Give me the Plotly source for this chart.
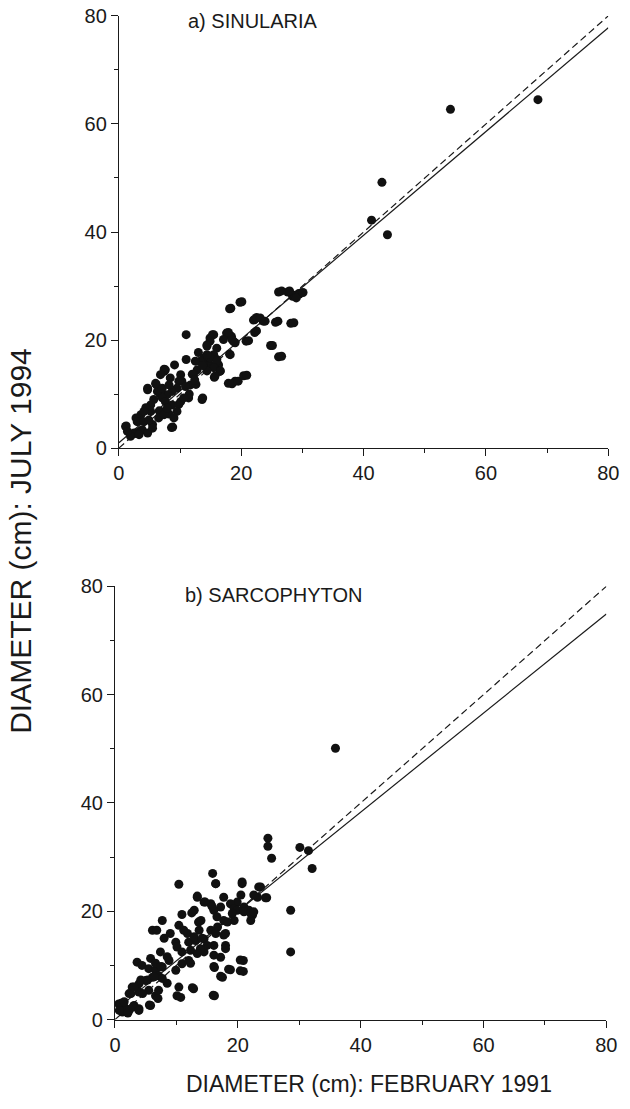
import plotly.graph_objects as go

# ---- Data: a) SINULARIA  (diameter Feb 1991, diameter July 1994), cm ----
sin_points = [
    (68.5, 64.5), (54.2, 62.7), (43.0, 49.2), (41.3, 42.2), (43.9, 39.5),
    (26.1, 28.9), (27.6, 28.9), (28.4, 28.1), (29.4, 28.6), (28.8, 28.3), (26.6, 29.1),
    (27.9, 29.1), (29.5, 28.5), (29.0, 27.8), (30.1, 28.8),
    (19.8, 27.0), (18.1, 25.8), (18.3, 25.9), (20.1, 27.1),
    (22.0, 23.7), (22.5, 24.2), (23.6, 23.5), (22.2, 23.8), (23.1, 24.1), (23.9, 23.5),
    (25.6, 23.3), (26.0, 23.5), (28.1, 23.1), (28.6, 23.2),
    (22.2, 21.4), (22.5, 21.7), (20.8, 19.8), (21.2, 19.9), (24.8, 19.0), (25.1, 19.0),
    (26.1, 16.9), (26.6, 17.0),
    (17.9, 21.0), (17.6, 21.3), (18.4, 20.7), (18.7, 19.8), (17.1, 20.1), (18.5, 20.1),
    (19.0, 19.5), (17.9, 21.4), (18.1, 17.4), (18.2, 17.3),
    (17.9, 12.0), (19.0, 12.4), (18.5, 11.9), (19.5, 12.4), (20.4, 13.4), (20.9, 13.5),
    (15.3, 21.0), (14.9, 20.4), (15.5, 21.0), (14.9, 19.8), (14.4, 19.1), (14.4, 18.9),
    (13.0, 17.7), (11.0, 21.0), (11.0, 16.4), (16.0, 18.5), (15.5, 17.3),
    (13.9, 16.7), (14.4, 16.1), (16.0, 16.4), (14.9, 15.4), (16.5, 14.2), (15.6, 13.1),
    (16.3, 15.4), (14.9, 16.7), (16.0, 16.1), (15.5, 14.9), (16.6, 14.3), (13.8, 15.5),
    (14.4, 14.3), (15.7, 13.3), (13.3, 16.1), (12.8, 14.5), (13.6, 9.0), (13.7, 9.3),
    (12.2, 13.6), (11.7, 11.7), (11.4, 9.3), (12.0, 13.7), (12.6, 11.8), (11.5, 10.0),
    (9.1, 15.4), (7.4, 14.2), (7.6, 14.5), (7.4, 14.6), (6.8, 13.6), (8.4, 13.0),
    (10.1, 13.6), (10.3, 12.4), (9.8, 12.4), (9.5, 11.1), (10.9, 11.4),
    (8.7, 10.5), (7.9, 9.9), (6.8, 9.9), (6.3, 10.5), (4.7, 10.8), (4.7, 11.1),
    (6.1, 11.8), (5.7, 9.0), (7.1, 9.3), (7.6, 8.6), (8.7, 8.0), (9.8, 8.1),
    (10.1, 8.6), (9.5, 6.8), (6.8, 6.8), (6.6, 6.9), (8.2, 6.3), (5.2, 6.8), (6.5, 5.6),
    (8.6, 3.8), (8.8, 3.9), (5.2, 8.0), (4.4, 7.5), (3.6, 6.2), (2.8, 5.6), (3.0, 4.9),
    (4.1, 4.9), (5.5, 4.4), (3.8, 3.4), (3.4, 3.1), (4.7, 2.8), (2.5, 2.8), (2.3, 2.6),
    (1.9, 2.2), (1.1, 4.0), (1.2, 4.1), (1.4, 3.1), (3.3, 2.5), (5.5, 3.7), (4.9, 5.2),
    (4.1, 6.8), (7.4, 6.2), (7.9, 7.4), (9.0, 5.6), (10.6, 9.3), (6.0, 12.0),
    (7.1, 11.1), (8.2, 11.7), (12.5, 16.1), (14.4, 17.3), (13.7, 15.3), (12.4, 12.6),
]

# ---- Data: b) SARCOPHYTON ----
sar_points = [
    (35.9, 50.1), (24.9, 33.5), (24.9, 32.0), (25.5, 29.8), (30.1, 31.8), (31.5, 31.2),
    (32.1, 27.9), (28.6, 20.2), (28.6, 12.5),
    (15.9, 27.0), (16.4, 25.1), (10.4, 25.0), (20.7, 25.4), (23.4, 24.5), (23.7, 24.5),
    (24.7, 22.5), (24.5, 22.5), (23.2, 22.6), (22.6, 23.0), (20.5, 23.0), (20.7, 25.1),
    (16.4, 25.1), (19.9, 21.7), (18.8, 21.4), (19.4, 20.5), (21.0, 20.8), (21.8, 20.2),
    (22.4, 19.3), (22.1, 18.3), (17.7, 22.6), (17.2, 20.8), (15.6, 21.4), (16.1, 20.2),
    (14.5, 21.7), (13.4, 22.6), (12.9, 20.2), (13.4, 22.8), (14.7, 21.7),
    (17.7, 18.3), (16.7, 17.1), (15.6, 16.5), (14.0, 18.3), (13.7, 16.5), (14.5, 14.9),
    (17.7, 15.6), (16.1, 13.7), (18.0, 13.7), (18.0, 13.1), (17.2, 11.5), (16.1, 11.9),
    (14.5, 12.5), (15.0, 13.7), (16.4, 15.9), (18.0, 15.9), (19.4, 18.3), (18.3, 18.0),
    (19.9, 20.2), (21.0, 19.9), (22.1, 19.6), (22.6, 19.9),
    (20.9, 10.9), (20.9, 8.9), (18.8, 9.2), (17.5, 7.8), (16.2, 9.6), (16.2, 4.4),
    (7.7, 18.3), (12.5, 19.7), (10.9, 19.4), (10.4, 17.4), (13.6, 18.0), (6.1, 16.5),
    (6.8, 16.5), (9.0, 15.9), (9.9, 14.3), (10.1, 13.4), (10.9, 12.5), (12.0, 14.3),
    (13.1, 14.6), (7.4, 12.5), (11.8, 15.9), (12.9, 15.3), (11.2, 16.5), (14.2, 15.0),
    (3.6, 10.6), (4.4, 10.0), (5.5, 9.4), (6.6, 9.1), (7.7, 9.7), (8.8, 10.9),
    (9.9, 9.1), (10.9, 10.3), (12.0, 10.9), (12.3, 12.8), (13.9, 13.1), (13.4, 12.2),
    (12.3, 10.4), (8.5, 11.6), (5.8, 11.3), (6.6, 10.4),
    (2.8, 6.0), (3.9, 6.6), (5.0, 7.2), (6.1, 7.8), (7.1, 8.1), (7.7, 7.6), (8.5, 6.7),
    (2.3, 4.8), (3.9, 5.1), (5.5, 5.4), (6.6, 4.4), (7.1, 5.4), (7.0, 3.9), (5.6, 2.7),
    (10.4, 6.0), (10.1, 4.4), (10.7, 4.1), (12.8, 5.7), (12.6, 5.9),
    (0.6, 2.9), (1.5, 2.3), (2.3, 1.7), (1.2, 1.4), (3.1, 2.6), (3.9, 2.0), (5.8, 2.6),
    (1.0, 3.0), (1.8, 2.0), (0.7, 1.7), (2.1, 1.2), (2.9, 2.3), (1.5, 3.3), (3.9, 1.7),
    (2.6, 4.8), (3.1, 6.0), (4.5, 4.8), (4.2, 7.3), (5.3, 7.3), (6.4, 7.9),
    (16.1, 9.8), (17.2, 8.0), (18.5, 9.3), (20.4, 11.0), (20.4, 9.0), (16.0, 4.5),
    (15.8, 20.9), (19.1, 19.6), (16.6, 19.0), (8.0, 15.0), (7.5, 9.8),
]

# 1:1 reference line (dashed) and fitted regression lines (solid)
line_x = [0, 80]
sin_fit = (1.0, 0.96)      # intercept, slope
sar_fit = (1.7, 0.915)

x_ticks = [0, 20, 40, 60, 80]
y_ticks = [0, 20, 40, 60, 80]

FONT = "Liberation Sans, Arial, sans-serif"
INK = "#1a1a1a"
W, H = 630, 1109

fig = go.Figure()


def add_panel(points, fit, xa, ya):
    xs = [p[0] for p in points]
    ys = [p[1] for p in points]
    fig.add_trace(go.Scatter(x=line_x, y=line_x, mode="lines",
                             line=dict(color=INK, width=1.2, dash="7px,4px"),
                             xaxis=xa, yaxis=ya, showlegend=False, hoverinfo="skip"))
    fig.add_trace(go.Scatter(x=line_x, y=[fit[0] + fit[1] * v for v in line_x], mode="lines",
                             line=dict(color=INK, width=1.2),
                             xaxis=xa, yaxis=ya, showlegend=False, hoverinfo="skip"))
    fig.add_trace(go.Scatter(x=xs, y=ys, mode="markers",
                             marker=dict(color="#111111", size=9, line=dict(width=0)),
                             xaxis=xa, yaxis=ya, showlegend=False, cliponaxis=False))


add_panel(sin_points, sin_fit, "x", "y")
add_panel(sar_points, sar_fit, "x2", "y2")

axis_common = dict(range=[0, 80], showline=True, linecolor=INK, linewidth=1.2,
                   ticks="outside", ticklen=7, tickwidth=1, tickcolor=INK,
                   showgrid=False, zeroline=False,
                   tickfont=dict(family=FONT, size=20, color=INK),
                   minor=dict(dtick=10, ticks="outside", ticklen=4, tickwidth=1, tickcolor=INK))

fig.update_layout(
    width=W, height=H, autosize=False,
    margin=dict(l=0, r=0, t=0, b=0),
    paper_bgcolor="white", plot_bgcolor="white",
    xaxis=dict(axis_common, domain=[116 / W, 619 / W], anchor="y", tickvals=x_ticks),
    yaxis=dict(axis_common, domain=[1 - 446 / H, 1 - 5 / H], anchor="x", tickvals=y_ticks),
    xaxis2=dict(axis_common, domain=[112 / W, 617 / W], anchor="y2", tickvals=x_ticks),
    yaxis2=dict(axis_common, domain=[1 - 1029 / H, 1 - 587 / H], anchor="x2", tickvals=y_ticks),
)

fig.add_annotation(text="a) SINULARIA", xref="paper", yref="paper",
                   x=185 / W, y=1 - 10 / H, xanchor="left", yanchor="middle",
                   showarrow=False, font=dict(family=FONT, size=20, color=INK))
fig.add_annotation(text="b) SARCOPHYTON", xref="paper", yref="paper",
                   x=182 / W, y=1 - 596 / H, xanchor="left", yanchor="middle",
                   showarrow=False, font=dict(family=FONT, size=20, color=INK))
fig.add_annotation(text="DIAMETER (cm): JULY 1994", xref="paper", yref="paper",
                   x=15 / W, y=1 - 541 / H, xanchor="center", yanchor="middle",
                   textangle=-90, showarrow=False, font=dict(family=FONT, size=30, color=INK))
fig.add_annotation(text="DIAMETER (cm): FEBRUARY 1991", xref="paper", yref="paper",
                   x=373 / W, y=1 - 1095 / H, xanchor="center", yanchor="middle",
                   showarrow=False, font=dict(family=FONT, size=23, color=INK))

fig.write_html("out.html", config={"displayModeBar": False},
               post_script="document.body.style.margin='0';document.body.style.padding='0';")
